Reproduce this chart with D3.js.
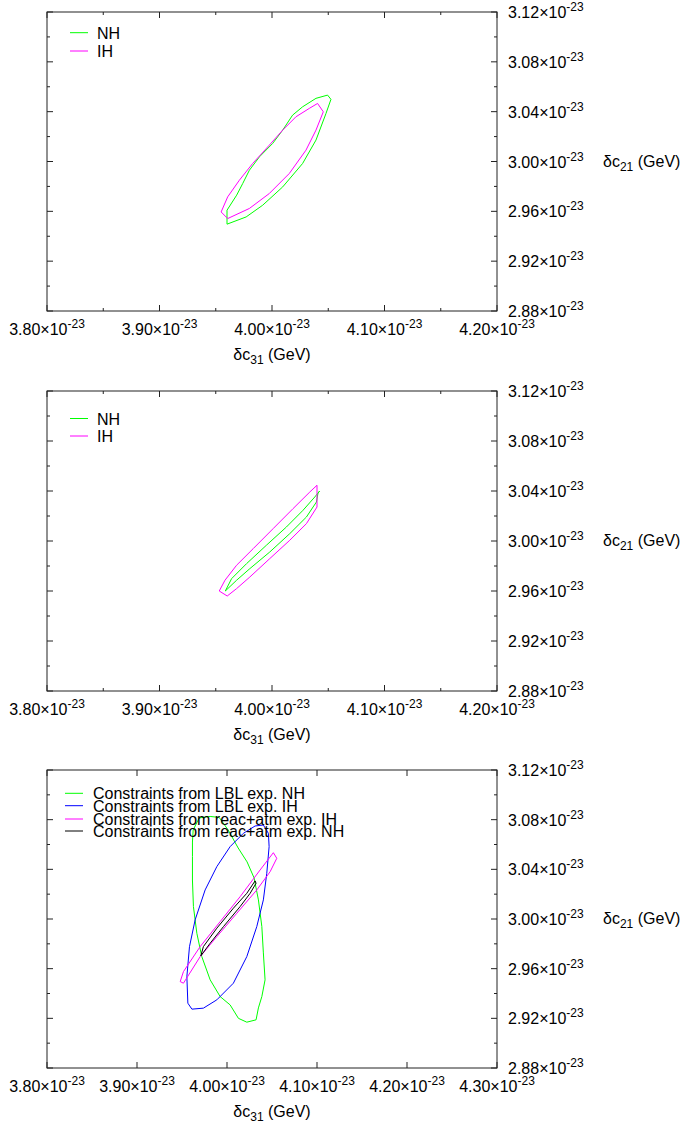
<!DOCTYPE html>
<html>
<head>
<meta charset="utf-8">
<script src="https://cdn.jsdelivr.net/npm/d3@7"></script>
<style>
  body { margin: 0; background: #fff; }
  svg { display: block; font-family: "Liberation Sans", Arial, Helvetica, sans-serif; }
</style>
</head>
<body>
<div id="chart"></div>
<script>
// values in units of 1e-23 GeV
const xTicksA = [3.80, 3.90, 4.00, 4.10, 4.20]
const xMinorA = [3.85, 3.95, 4.05, 4.15]
const xTicksB = [3.80, 3.90, 4.00, 4.10, 4.20, 4.30]
const yTicks = [2.88, 2.92, 2.96, 3.00, 3.04, 3.08, 3.12]
const yMinor = [2.90, 2.94, 2.98, 3.02, 3.06, 3.10]

const legendA = ['NH', 'IH']
const legendB = [
  'Constraints from LBL exp. NH',
  'Constraints from LBL exp. IH',
  'Constraints from reac+atm exp. IH',
  'Constraints from reac+atm exp. NH'
]

// panel 1
const nh1 = [
  [3.960, 2.9497], [3.960, 2.9609], [3.9686, 2.973], [3.974, 2.9824], [3.9799, 2.993],
  [3.9888, 3.0037], [4.0006, 3.0145], [4.0095, 3.0252], [4.0183, 3.0372], [4.0272, 3.0439],
  [4.0391, 3.0507], [4.0494, 3.0533], [4.0524, 3.0499], [4.048, 3.0386], [4.0391, 3.0172],
  [4.0272, 2.9984], [4.0095, 2.9796], [3.9917, 2.9649], [3.977, 2.9555]
]
const ih1 = [
  [4.0405, 3.0466], [4.0456, 3.0399], [4.0391, 3.0252], [4.0302, 3.0091], [4.0154, 2.9904],
  [3.9976, 2.9743], [3.9799, 2.9623], [3.9606, 2.9542], [3.9548, 2.9595], [3.9606, 2.9716],
  [3.971, 2.985], [3.9828, 2.9984], [3.9976, 3.0131], [4.0095, 3.0252], [4.0213, 3.0359],
  [4.0331, 3.0426]
]

// panel 2
const nh2 = [
  [4.0424, 3.04], [4.0409, 3.0384], [4.0395, 3.0312], [4.0365, 3.0272], [4.0306, 3.0192],
  [4.0158, 3.0059], [3.998, 2.9912], [3.9803, 2.9779], [3.9685, 2.9686], [3.9585, 2.96],
  [3.9641, 2.9699], [3.9774, 2.9819], [3.995, 2.9966], [4.0128, 3.0112], [4.0276, 3.0246],
  [4.038, 3.0352]
]
const ih2 = [
  [4.040, 3.0446], [4.040, 3.0272], [4.0306, 3.0139], [4.0158, 3.0006], [3.998, 2.9859],
  [3.9803, 2.9712], [3.9685, 2.9619], [3.9602, 2.956], [3.9531, 2.96], [3.9582, 2.9686],
  [3.9685, 2.9806], [3.9833, 2.9939], [4.001, 3.0099], [4.0187, 3.0259], [4.0336, 3.0392]
]

// panel 3
const lblNH = [
  [3.9616, 3.062], [3.9624, 3.0717], [3.9691, 3.0814], [3.9813, 3.0826], [3.9913, 3.0818],
  [4.0013, 3.0717], [4.0124, 3.0572], [4.0223, 3.046], [4.0301, 3.0331], [4.0349, 3.0154],
  [4.0387, 2.9939], [4.0404, 2.9727], [4.0423, 2.951], [4.0387, 2.9375], [4.0349, 2.9284],
  [4.0323, 2.9188], [4.022, 2.9169], [4.0127, 2.92], [4.0035, 2.9308], [3.9924, 2.9375],
  [3.9813, 2.951], [3.972, 2.9697], [3.9665, 2.9885], [3.9627, 3.01], [3.9616, 3.0314],
  [3.9616, 3.0502]
]
const lblIH = [
  [4.0404, 3.0757], [4.046, 3.069], [4.0468, 3.0583], [4.0442, 3.0368], [4.0404, 3.0154],
  [4.0331, 2.9939], [4.022, 2.9697], [4.0071, 2.9483], [3.9887, 2.9349], [3.9738, 2.9282],
  [3.961, 2.9274], [3.9565, 2.9322], [3.9554, 2.9536], [3.9583, 2.9777], [3.9646, 2.9993],
  [3.9757, 3.0234], [3.9887, 3.0422], [4.0035, 3.0583], [4.0182, 3.069], [4.0312, 3.0749]
]
const raIH = [
  [4.0515, 3.0534], [4.0553, 3.0489], [4.0479, 3.0381], [4.0331, 3.0234], [4.0109, 3.0046],
  [3.9887, 2.9858], [3.9702, 2.9697], [3.9516, 2.9483], [3.948, 2.9496], [3.9516, 2.9576],
  [3.9702, 2.9778], [3.9924, 2.9979], [4.0146, 3.018], [4.0368, 3.0395]
]
const raNH = [
  [4.0312, 3.0307], [4.0323, 3.0288], [4.0257, 3.0207], [4.0146, 3.01], [3.9961, 2.9939],
  [3.9813, 2.9805], [3.9709, 2.9703], [3.9738, 2.9778], [3.9887, 2.9926], [4.0071, 3.0087],
  [4.022, 3.0207]
]

const GREEN = '#00ff00', MAGENTA = '#ff00ff', BLUE = '#0000ff', BLACK = '#000000'

const W = 681, H = 1128
const left = 47, right = 497

const panels = [
  {
    top: 12, h: 299, xDomain: [3.80, 4.20], xTicks: xTicksA, xMinor: xMinorA,
    legend: { x0: 70, x1: 88, tx: 97, ys: [32.7, 51] }, labels: legendA,
    series: [[nh1, GREEN], [ih1, MAGENTA]], legendColors: [GREEN, MAGENTA]
  },
  {
    top: 391, h: 300, xDomain: [3.80, 4.20], xTicks: xTicksA, xMinor: xMinorA,
    legend: { x0: 70, x1: 88, tx: 97, ys: [418.5, 436] }, labels: legendA,
    series: [[nh2, GREEN], [ih2, MAGENTA]], legendColors: [GREEN, MAGENTA]
  },
  {
    top: 770, h: 298, xDomain: [3.80, 4.30], xTicks: xTicksB, xMinor: [],
    legend: { x0: 65, x1: 83, tx: 93, ys: [793.3, 805.7, 819, 831] }, labels: legendB,
    series: [[lblNH, GREEN], [lblIH, BLUE], [raIH, MAGENTA], [raNH, BLACK]],
    legendColors: [GREEN, BLUE, MAGENTA, BLACK]
  }
]

const svg = d3.select('#chart').append('svg').attr('width', W).attr('height', H)
const fmt = d3.format('.2f')
const AXIS = '#222'

function sciLabel(sel, v) {
  sel.append('tspan').text(fmt(v) + '\u00d710')
  sel.append('tspan').attr('dy', -7).attr('font-size', 12).text('-23')
}

panels.forEach(p => {
  const bottom = p.top + p.h
  const x = d3.scaleLinear().domain(p.xDomain).range([left, right])
  const y = d3.scaleLinear().domain([2.88, 3.12]).range([bottom, p.top])
  const g = svg.append('g')

  // frame
  g.append('rect')
    .attr('x', left).attr('y', p.top).attr('width', right - left).attr('height', p.h)
    .attr('fill', 'none').attr('stroke', AXIS).attr('stroke-width', 1)

  // inward ticks on all four sides
  const tickLines = [
    ...p.xTicks.map(v => ({ x1: x(v), y1: bottom, x2: x(v), y2: bottom - 6 })),
    ...p.xTicks.map(v => ({ x1: x(v), y1: p.top, x2: x(v), y2: p.top + 6 })),
    ...p.xMinor.map(v => ({ x1: x(v), y1: bottom, x2: x(v), y2: bottom - 3 })),
    ...p.xMinor.map(v => ({ x1: x(v), y1: p.top, x2: x(v), y2: p.top + 3 })),
    ...yTicks.map(v => ({ x1: left, y1: y(v), x2: left + 6, y2: y(v) })),
    ...yTicks.map(v => ({ x1: right, y1: y(v), x2: right - 6, y2: y(v) })),
    ...yMinor.map(v => ({ x1: left, y1: y(v), x2: left + 3, y2: y(v) })),
    ...yMinor.map(v => ({ x1: right, y1: y(v), x2: right - 3, y2: y(v) }))
  ]
  g.append('g').selectAll('line').data(tickLines).join('line')
    .attr('x1', d => d.x1).attr('y1', d => d.y1).attr('x2', d => d.x2).attr('y2', d => d.y2)
    .attr('stroke', AXIS).attr('stroke-width', 1)

  // x tick labels
  g.append('g').selectAll('text').data(p.xTicks).join('text')
    .attr('x', d => x(d)).attr('y', bottom + 24)
    .attr('text-anchor', 'middle').attr('font-size', 16)
    .each(function (d) { sciLabel(d3.select(this), d) })

  // y tick labels (right side)
  g.append('g').selectAll('text').data(yTicks).join('text')
    .attr('x', right + 11).attr('y', d => y(d) + 6)
    .attr('font-size', 16)
    .each(function (d) { sciLabel(d3.select(this), d) })

  // axis titles
  const xt = g.append('text')
    .attr('x', (left + right) / 2).attr('y', bottom + 49)
    .attr('text-anchor', 'middle').attr('font-size', 16)
  xt.append('tspan').text('\u03b4c')
  xt.append('tspan').attr('dy', 4).attr('font-size', 12).text('31')
  xt.append('tspan').attr('dy', -4).text(' (GeV)')

  const yt = g.append('text')
    .attr('x', 603).attr('y', (p.top + bottom) / 2 + 5)
    .attr('font-size', 16)
  yt.append('tspan').text('\u03b4c')
  yt.append('tspan').attr('dy', 4).attr('font-size', 12).text('21')
  yt.append('tspan').attr('dy', -4).text(' (GeV)')

  // contours
  const line = d3.line().x(d => x(d[0])).y(d => y(d[1])).curve(d3.curveLinearClosed)
  g.append('g').selectAll('path').data(p.series).join('path')
    .attr('d', d => line(d[0]))
    .attr('fill', 'none').attr('stroke', d => d[1]).attr('stroke-width', 1)

  // legend
  const lg = g.append('g')
  p.labels.forEach((t, i) => {
    const ly = p.legend.ys[i]
    lg.append('line')
      .attr('x1', p.legend.x0).attr('x2', p.legend.x1).attr('y1', ly).attr('y2', ly)
      .attr('stroke', p.legendColors[i]).attr('stroke-width', 1)
    lg.append('text')
      .attr('x', p.legend.tx).attr('y', ly + 6)
      .attr('font-size', 16).text(t)
  })
})
</script>
</body>
</html>
